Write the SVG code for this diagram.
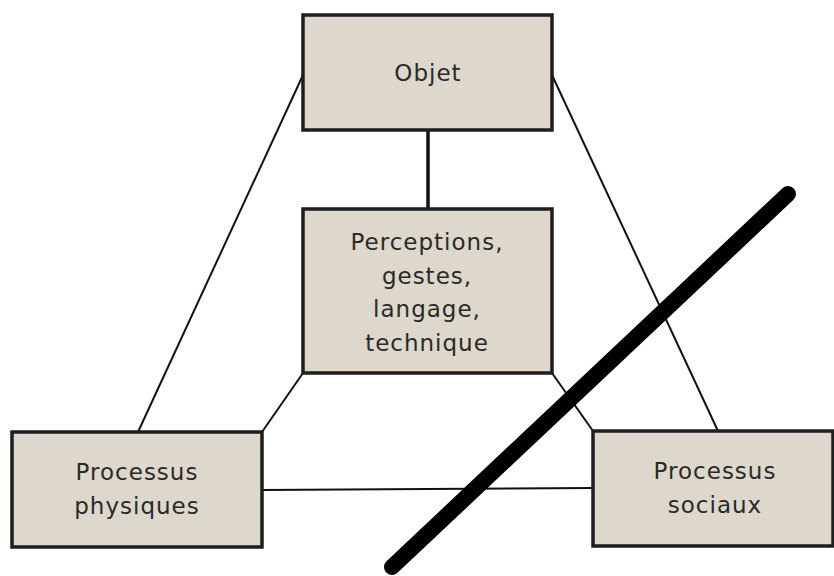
<svg xmlns="http://www.w3.org/2000/svg" width="834" height="576" viewBox="0 0 834 576">
<style>
.box{fill:#ddd7cc;stroke:#1e1e1e;stroke-width:3.5}
.lbl{font-family:"DejaVu Sans",sans-serif;font-size:23px;letter-spacing:1px;fill:#2a2a2a;text-anchor:middle}
.con{stroke:#111;stroke-width:2;fill:none}
</style>
<rect width="834" height="576" fill="#fff"/>
<g id="connectors">
<line class="con" x1="303" y1="75" x2="138" y2="432"/>
<line class="con" x1="552" y1="75" x2="718" y2="431"/>
<line class="con" x1="428" y1="130" x2="428" y2="209" style="stroke-width:3.5"/>
<line class="con" x1="303" y1="373" x2="262" y2="432"/>
<line class="con" x1="552" y1="373" x2="593" y2="431"/>
<line class="con" x1="262" y1="490" x2="593" y2="488"/>
</g>
<g id="objet">
<rect class="box" x="303" y="15" width="249" height="115"/>
<text class="lbl" x="428" y="81">Objet</text>
</g>
<g id="perceptions">
<rect class="box" x="303" y="209" width="249" height="164"/>
<text class="lbl" x="427" y="250">Perceptions,</text>
<text class="lbl" x="427" y="284">gestes,</text>
<text class="lbl" x="427" y="317">langage,</text>
<text class="lbl" x="427" y="351">technique</text>
</g>
<g id="physiques">
<rect class="box" x="12" y="432" width="250" height="115"/>
<text class="lbl" x="137" y="480">Processus</text>
<text class="lbl" x="137" y="514">physiques</text>
</g>
<g id="sociaux">
<rect class="box" x="593" y="431" width="240" height="115"/>
<text class="lbl" x="715" y="479">Processus</text>
<text class="lbl" x="715" y="513">sociaux</text>
</g>
<g id="strike">
<line x1="788" y1="194" x2="392" y2="567" stroke="#000" stroke-width="16" stroke-linecap="round"/>
</g>
</svg>
